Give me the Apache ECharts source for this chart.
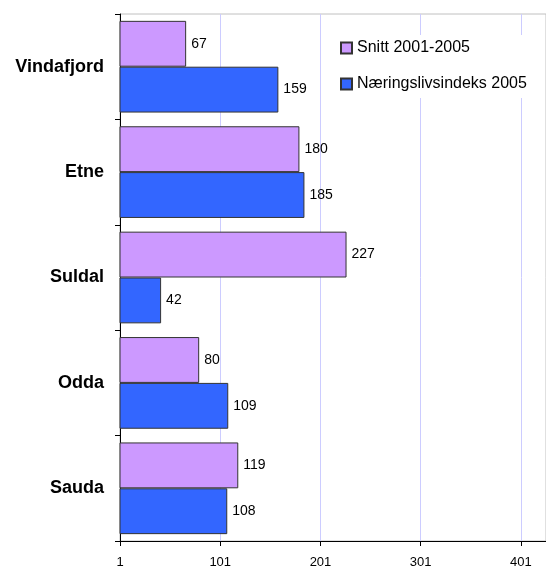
<!DOCTYPE html>
<html>
<head>
    <meta charset="utf-8">
    <script src="https://cdn.jsdelivr.net/npm/echarts@6/dist/echarts.min.js"></script>
</head>
<style type="text/css">
    body { margin: 0; background: #fff; }
    #chart { width: 546px; height: 569px; }
</style>
<body>
    <div id="chart"></div>
</body>
</html>

<script type="text/javascript">
    let kommuner = ['Vindafjord', 'Etne', 'Suldal', 'Odda', 'Sauda']
    let snitt = [67, 180, 227, 80, 119]
    let indeks2005 = [159, 185, 42, 109, 108]
    let seriesNames = ['Snitt 2001-2005', 'Næringslivsindeks 2005']

    let myChart = echarts.init(document.getElementById('chart'))

    let labelStyle = {
        show: true,
        position: 'right',
        distance: 5,
        color: '#000',
        fontSize: 14,
        fontFamily: 'Liberation Sans, Arial, sans-serif'
    }

    let option = {
        animation: false,
        backgroundColor: '#fff',
        textStyle: { fontFamily: 'Liberation Sans, Arial, sans-serif' },
        grid: {
            left: 120,
            right: 0,
            top: 14,
            bottom: 27,
            show: true,
            borderColor: '#c0c0c0',
            borderWidth: 1
        },
        legend: {
            orient: 'vertical',
            left: 332,
            top: 35,
            backgroundColor: '#fff',
            padding: [5, 6, 6, 8],
            itemWidth: 11,
            itemHeight: 11,
            itemGap: 20,
            icon: 'rect',
            textStyle: { fontSize: 16, color: '#000' },
            data: seriesNames
        },
        xAxis: {
            type: 'value',
            min: 1,
            max: 426,
            interval: 100,
            axisLine: { show: true, lineStyle: { color: '#000' } },
            axisTick: { show: true, length: 5, lineStyle: { color: '#000' } },
            axisLabel: { color: '#000', fontSize: 13, margin: 15, showMaxLabel: false },
            splitLine: { show: true, lineStyle: { color: '#ccccff', width: 1 } }
        },
        yAxis: {
            type: 'category',
            inverse: true,
            data: kommuner,
            axisLine: { show: true, lineStyle: { color: '#000' } },
            axisTick: { show: true, length: 5, lineStyle: { color: '#000' } },
            axisLabel: { color: '#000', fontSize: 18, fontWeight: 'bold', margin: 16 },
            splitLine: { show: false }
        },
        series: [
            {
                name: seriesNames[0],
                type: 'bar',
                data: snitt,
                barGap: '0%',
                barCategoryGap: '13%',
                itemStyle: { color: '#cc99ff', borderColor: '#333', borderWidth: 1 },
                label: labelStyle
            },
            {
                name: seriesNames[1],
                type: 'bar',
                data: indeks2005,
                barGap: '0%',
                barCategoryGap: '13%',
                itemStyle: { color: '#3366ff', borderColor: '#333', borderWidth: 1 },
                label: labelStyle
            }
        ]
    }

    myChart.setOption(option)
</script>
